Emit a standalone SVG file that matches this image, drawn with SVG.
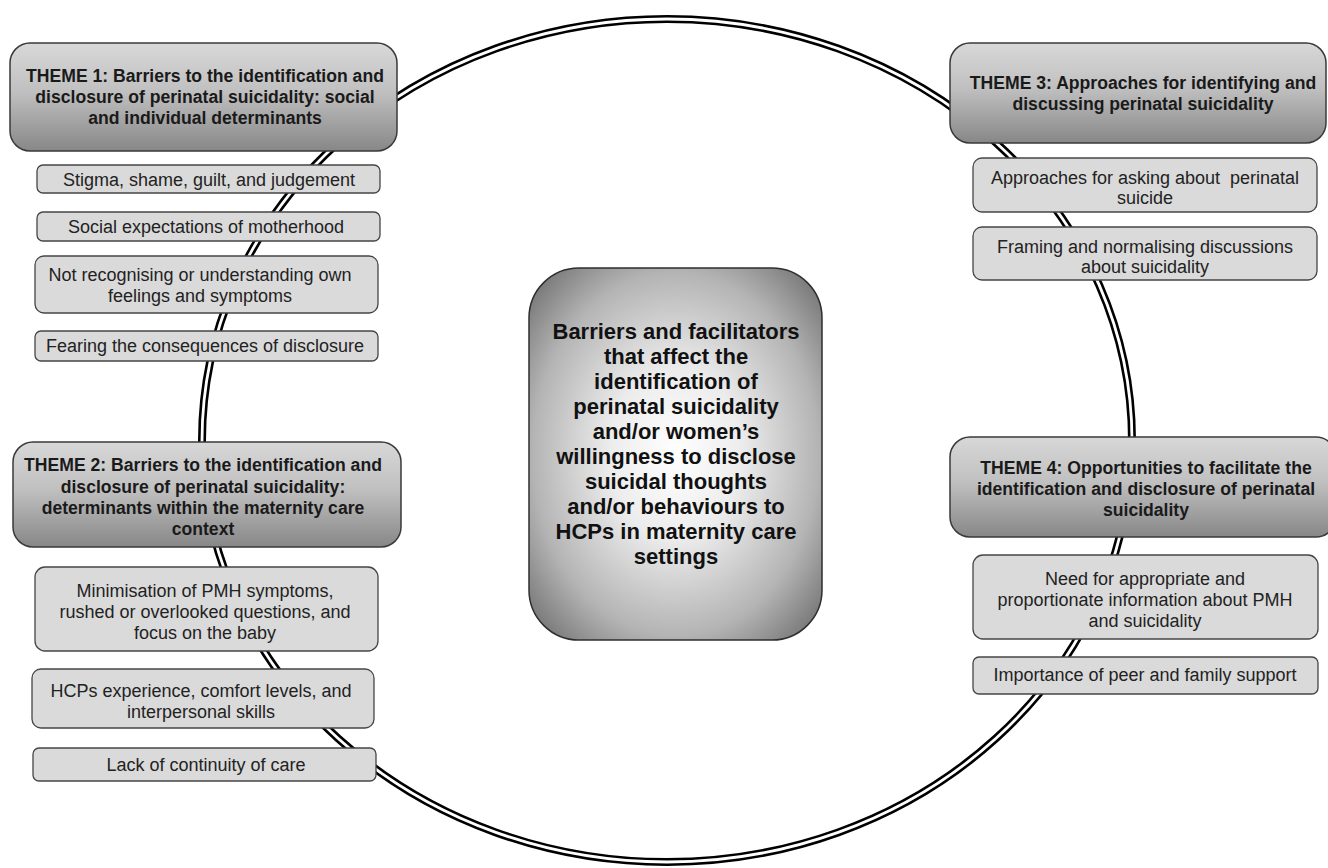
<svg xmlns="http://www.w3.org/2000/svg" width="1328" height="868" viewBox="0 0 1328 868">
  <defs>
    <linearGradient id="themeGrad" x1="0" y1="0" x2="0" y2="1">
      <stop offset="0" stop-color="#d8d8d8"/>
      <stop offset="0.45" stop-color="#c0c0c0"/>
      <stop offset="1" stop-color="#878787"/>
    </linearGradient>
    <radialGradient id="centerGrad" cx="0.5" cy="0.5" r="0.65">
      <stop offset="0" stop-color="#ffffff"/>
      <stop offset="0.35" stop-color="#ececec"/>
      <stop offset="0.75" stop-color="#b4b4b4"/>
      <stop offset="1" stop-color="#7a7a7a"/>
    </radialGradient>
    <style>
      .theme { fill: url(#themeGrad); stroke: #3a3a3a; stroke-width: 1.5; }
      .sub { fill: #dadada; stroke: #454545; stroke-width: 1.3; }
      .center { fill: url(#centerGrad); stroke: #2e2e2e; stroke-width: 1.5; }
      .tt { font-family: "Liberation Sans", Arial, sans-serif; font-size: 17.6px; font-weight: bold; fill: #1a1a1a; text-anchor: middle; }
      .st { font-family: "Liberation Sans", Arial, sans-serif; font-size: 18px; fill: #222; text-anchor: middle; }
      .ct { font-family: "Liberation Sans", Arial, sans-serif; font-size: 22px; font-weight: bold; fill: #111; text-anchor: middle; }
      .ringOuter { fill: none; stroke: #000; stroke-width: 8; }
      .ringInner { fill: none; stroke: #fff; stroke-width: 2.8; }
    </style>
  </defs>
  <rect width="1328" height="868" fill="#fff"/>

  <g id="connectors">
    <ellipse class="ringOuter" cx="667" cy="440.5" rx="465" ry="421.5"/>
    <ellipse class="ringInner" cx="667" cy="440.5" rx="465" ry="421.5"/>
  </g>

  <g id="center-node">
    <rect class="center" x="529" y="268" width="293" height="372" rx="50" ry="50"/>
    <text class="ct" x="676" y="339">Barriers and facilitators</text>
    <text class="ct" x="676" y="364">that affect the</text>
    <text class="ct" x="676" y="389">identification of</text>
    <text class="ct" x="676" y="414">perinatal suicidality</text>
    <text class="ct" x="676" y="439">and/or women’s</text>
    <text class="ct" x="676" y="464">willingness to disclose</text>
    <text class="ct" x="676" y="489">suicidal thoughts</text>
    <text class="ct" x="676" y="514">and/or behaviours to</text>
    <text class="ct" x="676" y="539">HCPs in maternity care</text>
    <text class="ct" x="676" y="564">settings</text>
  </g>

  <g id="theme1">
    <rect class="theme" x="10" y="43" width="387" height="108" rx="20" ry="20"/>
    <text class="tt" x="205" y="82">THEME 1: Barriers to the identification and</text>
    <text class="tt" x="205" y="103">disclosure of perinatal suicidality: social</text>
    <text class="tt" x="205" y="124">and individual determinants</text>
  </g>
  <g id="t1-stigma">
    <rect class="sub" x="37" y="165" width="343" height="28" rx="6" ry="6"/>
    <text class="st" x="209" y="186">Stigma, shame, guilt, and judgement</text>
  </g>
  <g id="t1-social">
    <rect class="sub" x="37" y="212" width="343" height="29" rx="6" ry="6"/>
    <text class="st" x="206" y="233">Social expectations of motherhood</text>
  </g>
  <g id="t1-recognising">
    <rect class="sub" x="35" y="256" width="343" height="57" rx="9" ry="9"/>
    <text class="st" x="200" y="281">Not recognising or understanding own</text>
    <text class="st" x="200" y="302">feelings and symptoms</text>
  </g>
  <g id="t1-fearing">
    <rect class="sub" x="35" y="331" width="343" height="30" rx="6" ry="6"/>
    <text class="st" x="205" y="352">Fearing the consequences of disclosure</text>
  </g>

  <g id="theme2">
    <rect class="theme" x="13" y="442" width="388" height="105" rx="20" ry="20"/>
    <text class="tt" x="203" y="471">THEME 2: Barriers to the identification and</text>
    <text class="tt" x="203" y="493">disclosure of perinatal suicidality:</text>
    <text class="tt" x="203" y="514">determinants within the maternity care</text>
    <text class="tt" x="203" y="535">context</text>
  </g>
  <g id="t2-minimisation">
    <rect class="sub" x="35" y="567" width="343" height="84" rx="10" ry="10"/>
    <text class="st" x="205" y="597">Minimisation of PMH symptoms,</text>
    <text class="st" x="205" y="618">rushed or overlooked questions, and</text>
    <text class="st" x="205" y="639">focus on the baby</text>
  </g>
  <g id="t2-hcps">
    <rect class="sub" x="32" y="669" width="342" height="59" rx="9" ry="9"/>
    <text class="st" x="201" y="697">HCPs experience, comfort levels, and</text>
    <text class="st" x="201" y="718">interpersonal skills</text>
  </g>
  <g id="t2-continuity">
    <rect class="sub" x="33" y="748" width="343" height="33" rx="6" ry="6"/>
    <text class="st" x="206" y="771">Lack of continuity of care</text>
  </g>

  <g id="theme3">
    <rect class="theme" x="950" y="43" width="376" height="100" rx="20" ry="20"/>
    <text class="tt" x="1143" y="89">THEME 3: Approaches for identifying and</text>
    <text class="tt" x="1143" y="110">discussing perinatal suicidality</text>
  </g>
  <g id="t3-asking">
    <rect class="sub" x="973" y="158" width="344" height="54" rx="9" ry="9"/>
    <text class="st" x="1145" y="184" xml:space="preserve">Approaches for asking about  perinatal</text>
    <text class="st" x="1145" y="204">suicide</text>
  </g>
  <g id="t3-framing">
    <rect class="sub" x="973" y="227" width="344" height="53" rx="9" ry="9"/>
    <text class="st" x="1145" y="253">Framing and normalising discussions</text>
    <text class="st" x="1145" y="273">about suicidality</text>
  </g>

  <g id="theme4">
    <rect class="theme" x="950" y="437" width="386" height="100" rx="20" ry="20"/>
    <text class="tt" x="1146" y="474">THEME 4: Opportunities to facilitate the</text>
    <text class="tt" x="1146" y="495">identification and disclosure of perinatal</text>
    <text class="tt" x="1146" y="516">suicidality</text>
  </g>
  <g id="t4-need">
    <rect class="sub" x="973" y="555" width="345" height="84" rx="10" ry="10"/>
    <text class="st" x="1145" y="585">Need for appropriate and</text>
    <text class="st" x="1145" y="606">proportionate information about PMH</text>
    <text class="st" x="1145" y="627">and suicidality</text>
  </g>
  <g id="t4-peer">
    <rect class="sub" x="973" y="657" width="345" height="37" rx="6" ry="6"/>
    <text class="st" x="1145" y="681">Importance of peer and family support</text>
  </g>
</svg>
